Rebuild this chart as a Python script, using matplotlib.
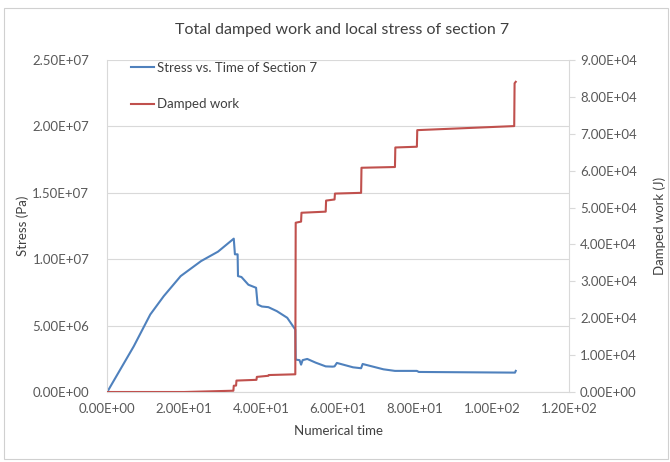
import matplotlib
matplotlib.use("Agg")
import matplotlib.pyplot as plt
from matplotlib.ticker import FuncFormatter, MultipleLocator
from matplotlib.patches import Rectangle

plt.rcParams['font.family'] = ['Lato', 'DejaVu Sans']

# stress history of section 7 (time, Pa)
stress_t = [0, 6.9, 11.2, 14.7, 19.1, 24.4, 28.8, 32.9, 33.2, 33.9, 34.0,
            34.9, 36.7, 38.7, 39.1, 40.2, 41.9, 44.1, 46.8, 48.9, 49.0,
            50.0, 50.4, 50.8, 52.0, 54.2, 56.8, 58.6, 59.1, 59.7, 63.9,
            66.0, 66.4, 71.8, 74.8, 80.5, 81.0, 106.0, 106.2]
stress = [0, 3.44e6, 5.84e6, 7.22e6, 8.73e6, 9.86e6, 10.57e6, 11.55e6,
          10.37e6, 10.37e6, 8.73e6, 8.66e6, 8.08e6, 7.85e6, 6.59e6, 6.44e6,
          6.39e6, 6.09e6, 5.59e6, 4.70e6, 2.44e6, 2.40e6, 2.06e6, 2.40e6,
          2.49e6, 2.21e6, 1.93e6, 1.91e6, 1.93e6, 2.19e6, 1.86e6, 1.79e6,
          2.11e6, 1.71e6, 1.59e6, 1.59e6, 1.51e6, 1.46e6, 1.59e6]

# cumulative damped work (time, J), stepwise
work_t = [0, 20.0, 32.8, 32.9, 33.5, 33.6, 38.8, 38.9, 41.9, 42.0, 48.9,
          49.0, 50.4, 50.5, 56.8, 56.9, 59.1, 59.2, 66.0, 66.1, 74.8,
          74.9, 80.5, 80.6, 105.8, 105.9, 106.2]
work = [0, 0, 350, 1700, 1750, 3100, 3300, 4100, 4400, 4600, 4800,
        45900, 46200, 48600, 48900, 51900, 52200, 53800, 54000, 60800,
        61000, 66300, 66500, 71000, 72100, 83700, 84100]

blue = '#4F81BD'
red = '#C0504D'
grid_c = '#d9d9d9'
text_c = '#595959'

fig = plt.figure(figsize=(6.7, 4.62), dpi=100)
fig.patches.append(Rectangle((4 / 670, 3 / 462), 664 / 670, 451 / 462,
                             transform=fig.transFigure, fill=False,
                             edgecolor='#d0d0d0', linewidth=0.8))

ax = fig.add_axes([0.160, 0.1515, 0.689, 0.7185])
ax2 = ax.twinx()

l1, = ax.plot(stress_t, stress, color=blue, lw=1.5,
              label='Stress vs. Time of Section 7')
l2, = ax2.plot(work_t, work, color=red, lw=1.5, label='Damped work')

ax.set_xlim(0, 120)
ax.set_ylim(0, 2.5e7)
ax2.set_ylim(0, 9e4)
ax.xaxis.set_major_locator(MultipleLocator(20))
ax.yaxis.set_major_locator(MultipleLocator(5e6))
ax2.yaxis.set_major_locator(MultipleLocator(1e4))

sci = FuncFormatter(lambda v, p: f"{v:.2E}")
for a in (ax.xaxis, ax.yaxis, ax2.yaxis):
    a.set_major_formatter(sci)

ax.grid(axis='y', color=grid_c, lw=0.8)
ax.set_axisbelow(True)

for a in (ax, ax2):
    for s in a.spines.values():
        s.set_color(grid_c)
    a.spines['top'].set_visible(False)
ax2.spines['left'].set_visible(False)
ax2.spines['bottom'].set_visible(False)
ax.spines['right'].set_visible(False)

ax.tick_params(axis='x', length=0, pad=8, labelsize=9.5, labelcolor=text_c)
ax.tick_params(axis='y', length=0, pad=13, labelsize=9.5, labelcolor=text_c)
ax2.tick_params(axis='y', length=4, color=grid_c, pad=4, labelsize=9.5,
                labelcolor=text_c)

ax.set_xlabel('Numerical time', fontsize=9.5, color='#404040', labelpad=7)
ax.set_ylabel('Stress (Pa)', fontsize=9.5, color='#404040', labelpad=2)
ax2.set_ylabel('Damped work (J)', fontsize=9.5, color='#404040', labelpad=12)

fig.text(0.51, 0.935, 'Total damped work and local stress of section 7',
         ha='center', va='center', fontsize=11.5, color='#404040')

ax2.legend(handles=[l1, l2], loc='upper left', bbox_to_anchor=(0.025, 1.03),
           frameon=False, fontsize=9.5, labelspacing=1.85, handlelength=1.8,
           handletextpad=0.2, labelcolor='#404040')

fig.savefig('out.png', dpi=100)
